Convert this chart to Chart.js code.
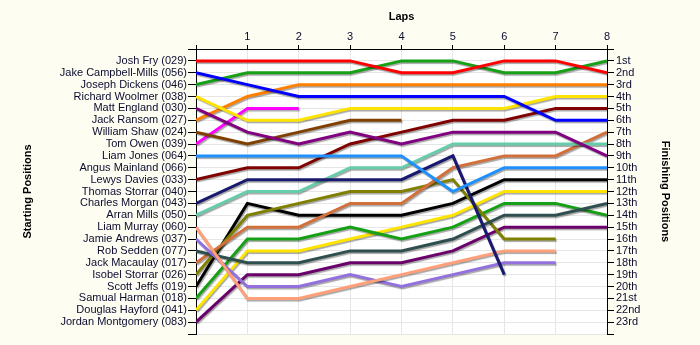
<!DOCTYPE html>
<html>
<head>
<meta charset="utf-8">
<title>Race positions</title>
<script src="https://cdn.jsdelivr.net/npm/chart.js@4.4.0/dist/chart.umd.min.js"></script>
<style>
  body { margin: 0; background: #fdfdf2; }
  #wrap { width: 700px; height: 345px; }
</style>
</head>
<body>
<div id="wrap"><canvas id="raceChart" width="700" height="345"></canvas></div>
<script>
// lap numbers, 0 = grid
var laps = [0, 1, 2, 3, 4, 5, 6, 7, 8];

// drivers in starting order
var drivers = [
  "Josh Fry (029)", "Jake Campbell-Mills (056)", "Joseph Dickens (046)", "Richard Woolmer (038)",
  "Matt England (030)", "Jack Ransom (027)", "William Shaw (024)", "Tom Owen (039)",
  "Liam Jones (064)", "Angus Mainland (066)", "Lewys Davies (033)", "Thomas Storrar (040)",
  "Charles Morgan (043)", "Arran Mills (050)", "Liam Murray (060)", "Jamie Andrews (037)",
  "Rob Sedden (077)", "Jack Macaulay (017)", "Isobel Storrar (026)", "Scott Jeffs (019)",
  "Samual Harman (018)", "Douglas Hayford (041)", "Jordan Montgomery (083)"
];

var finishLabels = [
  "1st", "2nd", "3rd", "4th", "5th", "6th", "7th", "8th", "9th", "10th", "11th", "12th",
  "13th", "14th", "15th", "16th", "17th", "18th", "19th", "20th", "21st", "22nd", "23rd"
];

// position at the end of each lap
var joshFry          = [1, 1, 1, 1, 2, 2, 1, 1, 2];
var jakeCampbell     = [2, 3, 4, 4, 4, 4, 4, 6, 6];
var josephDickens    = [3, 2, 2, 2, 1, 1, 2, 2, 1];
var richardWoolmer   = [4, 6, 6, 5, 5, 5, 5, 4, 4];
var mattEngland      = [5, 7, 8, 7, 8, 7, 7, 7, 9];
var jackRansom       = [6, 4, 3, 3, 3, 3, 3, 3, 3];
var williamShaw      = [7, 8, 7, 6, 6];
var tomOwen          = [8, 5, 5];
var liamJones        = [9, 9, 9, 9, 9, 12, 10, 10, 10];
var angusMainland    = [];
var lewysDavies      = [11, 10, 10, 8, 7, 6, 6, 5, 5];
var thomasStorrar    = [];
var charlesMorgan    = [13, 11, 11, 11, 11, 9, 19];
var arranMills       = [14, 12, 12, 10, 10, 8, 8, 8, 8];
var liamMurray       = [15, 21, 21, 20, 19, 18, 17, 17];
var jamieAndrews     = [16, 20, 20, 19, 20, 19, 18, 18];
var robSedden        = [17, 18, 18, 17, 17, 16, 14, 14, 13];
var jackMacaulay     = [18, 15, 15, 13, 13, 10, 9, 9, 7];
var isobelStorrar    = [19, 14, 13, 12, 12, 11, 16, 16];
var scottJeffs       = [20, 13, 14, 14, 14, 13, 11, 11, 11];
var samualHarman     = [21, 16, 16, 15, 16, 15, 13, 13, 14];
var douglasHayford   = [22, 17, 17, 16, 15, 14, 12, 12, 12];
var jordanMontgomery = [23, 19, 19, 18, 18, 17, 15, 15, 15];

var positions = [
  joshFry, jakeCampbell, josephDickens, richardWoolmer, mattEngland, jackRansom,
  williamShaw, tomOwen, liamJones, angusMainland, lewysDavies, thomasStorrar,
  charlesMorgan, arranMills, liamMurray, jamieAndrews, robSedden, jackMacaulay,
  isobelStorrar, scottJeffs, samualHarman, douglasHayford, jordanMontgomery
];

var lineColors = [
  "#ff0000", "#0000ff", "#16a016", "#ffe400", "#800080", "#ff8000",
  "#804000", "#ff00ff", "#1e90ff", "#808080", "#800000", "#808080",
  "#191970", "#66cdaa", "#ffa07a", "#9370db", "#2f4f4f", "#d2703c",
  "#808000", "#000000", "#16a016", "#ffe400", "#6a006a"
];

var datasets = [];
for (var i = 0; i < drivers.length; i++) {
  datasets.push({
    label: drivers[i],
    data: positions[i].map(function (p, lap) { return { x: laps[lap], y: p }; }),
    borderColor: lineColors[i],
    backgroundColor: lineColors[i],
    borderWidth: 3,
    pointRadius: 0,
    pointHoverRadius: 0,
    tension: 0,
    fill: false
  });
}

// cream page, white plot area
var backdrop = {
  id: 'backdrop',
  beforeDraw: function (chart) {
    var ctx = chart.ctx, a = chart.chartArea;
    ctx.save();
    ctx.fillStyle = '#fdfdf2';
    ctx.fillRect(0, 0, chart.width, chart.height);
    ctx.fillStyle = '#ffffff';
    ctx.fillRect(a.left, a.top, a.right - a.left, a.bottom - a.top);
    ctx.restore();
  }
};

// soft drop shadow under every line
var lineShadow = {
  id: 'lineShadow',
  beforeDatasetDraw: function (chart) {
    var ctx = chart.ctx;
    ctx.save();
    ctx.shadowColor = 'rgba(0,0,0,0.35)';
    ctx.shadowOffsetX = 1;
    ctx.shadowOffsetY = 1.5;
    ctx.shadowBlur = 1;
  },
  afterDatasetDraw: function (chart) {
    chart.ctx.restore();
  }
};

Chart.defaults.font.family = "'Liberation Sans', Arial, sans-serif";
Chart.defaults.font.size = 11;
Chart.defaults.color = '#0b0b30';

var gridColor = '#e6e6e6';
var titleFont = { family: "'Liberation Sans', Arial, sans-serif", size: 11, weight: 'bold' };

new Chart(document.getElementById('raceChart'), {
  type: 'line',
  data: { datasets: datasets },
  plugins: [backdrop, lineShadow],
  options: {
    responsive: false,
    animation: false,
    events: [],
    layout: { padding: { left: 0, right: 0, top: 0, bottom: 11 } },
    plugins: { legend: { display: false }, tooltip: { enabled: false } },
    scales: {
      x: {
        type: 'linear',
        position: 'top',
        min: 0,
        max: 8,
        ticks: {
          stepSize: 1,
          padding: 1,
          maxRotation: 0,
          callback: function (v) { return v === 0 ? '' : v; }
        },
        grid: { color: gridColor, tickColor: '#000', tickLength: 4 },
        border: { color: '#000' },
        title: { display: true, text: 'Laps', color: '#000', font: titleFont, padding: { top: 10, bottom: 0 } },
        afterFit: function (scale) { scale.height = 49; }
      },
      y: {
        type: 'linear',
        position: 'left',
        reverse: true,
        min: 0,
        max: 24,
        ticks: {
          stepSize: 1,
          autoSkip: false,
          padding: 1,
          callback: function (v) { return drivers[v - 1] || ''; }
        },
        grid: { color: gridColor, tickColor: '#000', tickLength: 8 },
        border: { color: '#000' },
        title: { display: true, text: 'Starting Positions', color: '#000', font: titleFont, padding: { top: 21, bottom: 0 } },
        afterFit: function (scale) { scale.width = 196; }
      },
      y2: {
        type: 'linear',
        position: 'right',
        reverse: true,
        min: 0,
        max: 24,
        ticks: {
          stepSize: 1,
          autoSkip: false,
          padding: 2,
          callback: function (v) { return finishLabels[v - 1] || ''; }
        },
        grid: { drawOnChartArea: false, tickColor: '#000', tickLength: 7 },
        border: { color: '#000' },
        title: { display: true, text: 'Finishing Positions', color: '#000', font: titleFont, padding: { top: 28, bottom: 0 } },
        afterFit: function (scale) { scale.width = 93; }
      }
    }
  }
});
</script>
</body>
</html>
